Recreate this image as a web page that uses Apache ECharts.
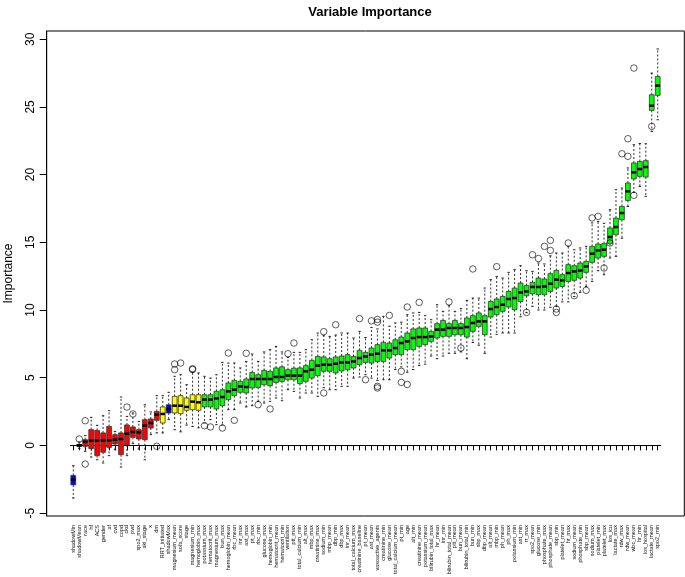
<!DOCTYPE html>
<html><head><meta charset="utf-8">
<script src="https://cdn.jsdelivr.net/npm/echarts@6/dist/echarts.min.js"></script>
<style>html,body{margin:0;padding:0;background:#fff}#c{width:685px;height:577px}</style>
</head><body><div id="c"></div>
<script>
const variables = ["shadowMin","shadowMean","race","hf","ACS","gender","af","cvd","copd","ckd","pvd","spo2_max","aki_stage","x","dm","RRT_initiated","shadowMax","magnesium_mean","sofa_score","stage","magnesium_min","hemoglobin_max","potassium_max","hematocrit_max","magnesium_max","bun_max","hemoglobin_mean","rbc_mean","inr_max","ast_max","pt_max","rbc_min","glucose_max","hemoglobin_min","hematocrit_mean","hematocrit_min","ventilation","ptt_max","total_calcium_min","alt_max","mbp_max","creatinine_max","sodium_min","mbp_mean","dbp_min","dbp_max","inr_mean","total_calcium_max","creatinine_baseline","pt_mean","ast_mean","vasoactive_agents","creatinine_min","glucose_mean","total_calcium_mean","pt_min","age","alt_min","creatinine_mean","potassium_mean","bilirubin_total_max","hr_mean","inr_min","bilirubin_total_mean","ptt_mean","bun_mean","bilirubin_total_min","bun_min","sbp_max","dbp_mean","alt_mean","mbp_min","ph_mean","ph_max","potassium_min","ast_min","rr_max","spo2_mean","glucose_min","phosphate_max","phosphate_mean","sbp_min","platelet_mean","hr_max","sodium_mean","phosphate_min","sbp_mean","sodium_max","platelet_min","platelet_max","los_icu","lactate_max","rdw_max","rdw_mean","wbc_mean","hr_min","los_hospital","lactate_mean","spo2_min"];
const decision = ["S","S","R","R","R","R","R","R","R","R","R","R","R","R","R","T","S","T","T","T","T","T","C","C","C","C","C","C","C","C","C","C","C","C","C","C","C","C","C","C","C","C","C","C","C","C","C","C","C","C","C","C","C","C","C","C","C","C","C","C","C","C","C","C","C","C","C","C","C","C","C","C","C","C","C","C","C","C","C","C","C","C","C","C","C","C","C","C","C","C","C","C","C","C","C","C","C","C","C"];
const whiskerLow = [-3.89,-0.22,-0.44,-0.86,-1.06,-1.3,-0.76,-0.32,-1.6,-0.76,0.13,-0.27,-1.06,0.79,0.92,0.92,1.9,1.16,1.0,1.5,1.4,1.3,1.65,1.9,1.53,1.5,2.64,2.64,3.13,2.84,2.93,3.25,3.13,3.25,3.5,3.3,4.11,3.99,3.5,3.87,3.87,3.62,4.26,4.11,4.11,4.36,4.36,4.97,5.05,5.22,4.97,4.8,4.85,4.85,5.6,5.8,5.4,5.6,5.9,6.0,6.6,6.4,6.6,6.8,6.8,6.9,6.4,7.6,7.4,6.8,8.0,8.2,8.3,8.3,8.3,9.5,9.8,10.27,10.0,10.0,10.2,10.27,10.6,10.6,11.0,11.3,11.74,12.11,12.9,12.6,13.84,13.96,15.3,17.65,18.69,19.13,18.39,23.19,24.05];
const quart1 = [-2.92,-0.07,-0.07,-0.24,-0.76,-0.51,-0.15,0.1,-0.69,0.03,0.59,0.47,0.42,1.28,1.85,1.65,2.39,2.39,2.34,2.59,2.64,2.59,2.84,2.84,2.69,2.93,3.38,3.67,3.92,3.87,4.24,4.28,4.48,4.41,4.65,4.73,4.85,4.85,4.56,4.73,4.97,5.15,5.47,5.47,5.35,5.5,5.59,5.72,5.96,6.13,6.08,6.2,6.2,6.45,6.7,6.7,7.07,7.07,7.31,7.44,7.68,7.93,8.05,8.05,8.17,8.17,8.0,8.42,8.79,8.17,9.48,9.65,9.9,10.22,10.02,10.63,11.05,11.2,11.13,11.13,11.37,11.62,11.74,12.11,12.19,12.36,12.78,13.52,13.84,13.96,14.9,15.56,16.67,18.09,19.68,19.87,19.82,24.74,25.85];
const medianVal = [-2.53,0.0,0.27,0.35,0.35,0.35,0.37,0.42,0.47,0.86,0.99,0.96,1.46,1.65,2.27,2.32,2.69,2.93,2.93,2.84,3.23,3.18,3.38,3.38,3.47,3.57,3.99,4.11,4.36,4.31,4.9,4.9,4.9,4.9,5.05,5.05,5.15,5.15,5.15,5.47,5.59,5.89,5.96,5.96,6.03,6.13,6.13,6.2,6.45,6.57,6.7,6.77,7.02,7.02,7.19,7.56,7.68,7.93,8.0,8.0,8.05,8.55,8.55,8.67,8.67,8.67,8.74,9.04,9.16,9.16,10.07,10.22,10.39,10.81,10.88,11.3,11.37,11.7,11.7,11.74,11.94,12.24,12.19,12.73,12.85,12.92,13.22,14.16,14.4,14.45,15.39,16.13,17.16,18.76,20.17,20.41,20.56,25.09,26.57];
const quart3 = [-2.22,0.07,0.42,1.16,1.11,0.92,1.4,0.79,0.92,1.51,1.36,1.16,1.9,1.95,2.51,2.84,3.0,3.62,3.67,3.5,3.74,3.74,3.74,3.74,3.99,4.11,4.61,4.8,4.73,4.9,5.39,5.22,5.54,5.47,5.72,5.8,5.59,5.7,5.72,5.89,6.28,6.57,6.53,6.4,6.53,6.6,6.7,6.57,7.02,6.87,7.19,7.44,7.61,7.56,7.8,8.0,8.3,8.6,8.67,8.67,8.42,8.99,9.23,8.99,9.23,8.99,9.41,9.58,9.78,9.58,10.63,10.81,11.0,11.37,11.62,11.99,11.8,12.04,12.36,12.29,12.68,12.92,12.61,13.35,13.27,13.47,13.59,14.7,14.87,14.9,16.06,16.79,17.65,19.38,20.86,20.97,21.03,25.9,27.25];
const whiskerHigh = [-1.5,0.25,0.72,2.07,1.48,2.19,2.56,1.03,3.57,2.14,2.39,1.77,3.0,2.47,3.67,3.67,3.92,5.1,5.22,4.48,5.4,5.35,5.1,4.97,5.22,6.13,6.08,6.08,5.72,6.2,6.75,6.2,6.9,7.07,7.31,6.9,6.5,6.87,6.87,7.07,7.8,8.3,8.1,8.05,8.15,8.3,8.3,7.93,8.42,7.97,8.7,8.6,9.53,8.8,9.04,9.1,9.65,9.78,9.82,9.58,9.28,10.39,9.9,10.32,9.9,10.1,10.71,10.88,10.88,11.62,12.24,12.48,12.36,12.78,12.98,13.27,12.9,12.85,13.47,13.4,14.0,14.21,14.21,14.7,14.45,14.58,14.7,16.43,16.54,16.4,17.41,18.88,19.0,20.49,22.21,22.3,22.28,27.5,29.28];
const outlierVar = ["shadowMean","race","race","ckd","pvd","dm","magnesium_mean","magnesium_mean","sofa_score","magnesium_min","magnesium_min","potassium_max","hematocrit_max","bun_max","hemoglobin_mean","rbc_mean","ast_max","rbc_min","hemoglobin_min","ventilation","ptt_max","sodium_min","sodium_min","dbp_min","creatinine_baseline","pt_mean","ast_mean","vasoactive_agents","vasoactive_agents","vasoactive_agents","vasoactive_agents","glucose_mean","pt_min","pt_min","age","age","creatinine_mean","bilirubin_total_mean","bun_mean","bun_min","mbp_min","rr_max","spo2_mean","glucose_min","phosphate_max","phosphate_mean","phosphate_mean","sbp_min","sbp_min","hr_max","sodium_mean","sbp_mean","sodium_max","platelet_min","platelet_max","los_icu","rdw_max","rdw_mean","rdw_mean","wbc_mean","wbc_mean","lactate_mean","spo2_min"];
const outlierValue = [0.47,1.82,-1.38,2.83,2.32,-0.07,6.01,5.59,6.08,5.66,5.6,1.45,1.36,1.28,6.82,1.85,6.8,3.0,2.69,6.77,7.56,8.4,3.87,8.91,9.36,4.85,9.2,9.3,9.1,4.36,4.24,9.6,5.47,4.65,4.5,10.22,10.56,10.6,7.19,13.03,13.2,9.82,14.08,13.8,14.7,14.4,15.14,9.82,10.07,14.95,11.06,11.45,16.8,16.91,13.1,14.95,21.54,21.35,22.65,18.47,27.87,23.56];
const yTicks = [-5,0,5,10,15,20,25,30];

const fillColors = {S:"#0000FF", R:"#FF0000", T:"#FFFF00", C:"#00FF00"};

const allLow = Math.min(...whiskerLow, ...outlierValue);
const allHigh = Math.max(...whiskerHigh, ...outlierValue);
const pad = (allHigh - allLow) * 0.04;
const yMin = allLow - pad, yMax = allHigh + pad;

const boxData = variables.map((v, i) => [i, whiskerLow[i], quart1[i], medianVal[i], quart3[i], whiskerHigh[i]]);
const outlierData = outlierVar.map((v, i) => [v, outlierValue[i]]);

const chart = echarts.init(document.getElementById('c'), null, {renderer: 'canvas'});
const FONT = '"Liberation Sans", Arial, Helvetica, sans-serif';

chart.setOption({
  animation: false,
  backgroundColor: '#fff',
  title: {
    text: 'Variable Importance', left: 365, top: 1, textAlign: 'center',
    textStyle: {fontFamily: FONT, fontWeight: 'bold', fontSize: 13, color: '#000'}
  },
  grid: [
    {left: 70.3, right: 24.3, top: 31, bottom: 61, containLabel: false, outerBoundsMode: 'none'},
    {left: 46.7, right: 0.7, top: 31, bottom: 61, show: true, borderColor: '#000', borderWidth: 1, backgroundColor: 'transparent', z: 0, containLabel: false, outerBoundsMode: 'none'}
  ],
  xAxis: [
    {gridIndex: 0, type: 'category', data: variables, boundaryGap: true,
     axisLine: {show: true, lineStyle: {color: '#000', width: 1}},
     axisTick: {show: true, alignWithLabel: true, interval: 0, length: 5, lineStyle: {color: '#000'}},
     axisLabel: {interval: 0, rotate: 90, fontSize: 5.5, margin: 9, color: '#111', fontFamily: FONT},
     splitLine: {show: false}},
    {gridIndex: 1, type: 'value', show: false, min: 0, max: 1}
  ],
  yAxis: [
    {gridIndex: 0, type: 'value', min: yMin, max: yMax, show: false},
    {gridIndex: 1, type: 'value', min: yMin, max: yMax,
     name: 'Importance', nameLocation: 'middle', nameGap: 32, nameRotate: 90,
     nameTextStyle: {fontFamily: FONT, fontSize: 12, color: '#000'},
     axisLine: {show: true, lineStyle: {color: '#000'}},
     axisTick: {show: true, length: 7, customValues: yTicks, lineStyle: {color: '#000'}},
     axisLabel: {customValues: yTicks, rotate: 90, fontSize: 12, margin: 10, color: '#000', fontFamily: FONT},
     splitLine: {show: false}}
  ],
  series: [
    {
      type: 'custom', xAxisIndex: 0, yAxisIndex: 0, data: boxData,
      encode: {x: 0, y: [1, 2, 3, 4, 5]},
      renderItem: function (params, api) {
        const i = api.value(0);
        const pLo = api.coord([i, api.value(1)]);
        const pQ1 = api.coord([i, api.value(2)]);
        const pMed = api.coord([i, api.value(3)]);
        const pQ3 = api.coord([i, api.value(4)]);
        const pHi = api.coord([i, api.value(5)]);
        const band = api.size([1, 0])[0];
        const bw = band * 0.8;
        const cap = bw * 0.25;
        const x = pMed[0];
        const fill = fillColors[decision[i]];
        const dashed = {stroke: '#333', lineWidth: 1, lineDash: [2, 2], fill: null};
        const solid = {stroke: '#222', lineWidth: 1};
        return {
          type: 'group',
          children: [
            {type: 'line', shape: {x1: x, y1: pQ3[1], x2: x, y2: pHi[1]}, style: dashed},
            {type: 'line', shape: {x1: x, y1: pQ1[1], x2: x, y2: pLo[1]}, style: dashed},
            {type: 'line', shape: {x1: x - cap, y1: pHi[1], x2: x + cap, y2: pHi[1]}, style: solid},
            {type: 'line', shape: {x1: x - cap, y1: pLo[1], x2: x + cap, y2: pLo[1]}, style: solid},
            {type: 'rect', shape: {x: x - bw / 2, y: pQ3[1], width: bw, height: Math.max(pQ1[1] - pQ3[1], 0.5)},
             style: {fill: fill, stroke: '#333', lineWidth: 0.8}},
            {type: 'line', shape: {x1: x - bw / 2, y1: pMed[1], x2: x + bw / 2, y2: pMed[1]}, style: {stroke: '#000', lineWidth: 2.5}}
          ]
        };
      }
    },
    {
      type: 'scatter', xAxisIndex: 0, yAxisIndex: 0, data: outlierData,
      symbol: 'circle', symbolSize: 6.5,
      itemStyle: {color: 'rgba(0,0,0,0)', borderColor: '#000', borderWidth: 0.8}
    }
  ]
});
</script>
</body></html>
